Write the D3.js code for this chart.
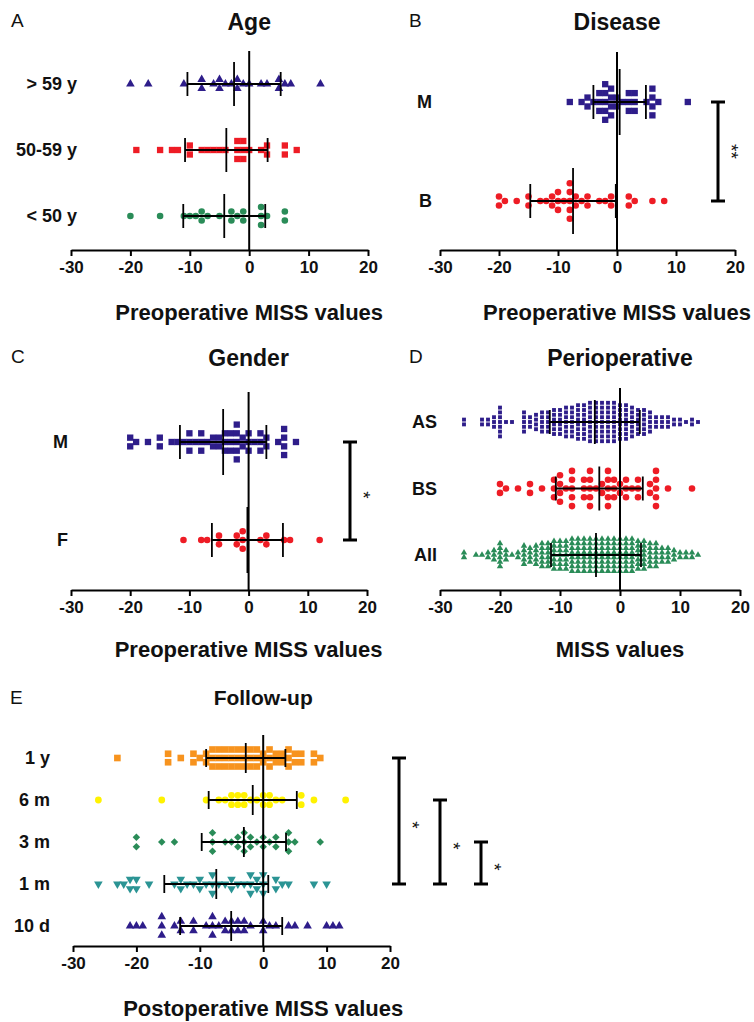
<!DOCTYPE html>
<html>
<head>
<meta charset="utf-8">
<script src="https://cdn.jsdelivr.net/npm/d3@7"></script>
<style>
  body { margin: 0; background: #fff; }
  text { font-family: "Liberation Sans", Arial, sans-serif; fill: #111; }
</style>
</head>
<body>
<div id="chart"></div>
<script>
// ---- data ----
const missTicks = [-30, -20, -10, 0, 10, 20];
const missTickLabels = ["-30", "-20", "-10", "0", "10", "20"];

// A: age
const ageCats = ["> 59 y", "50-59 y", "< 50 y"];
const ageOver59 = [-20,-17,-11,-8,-8,-6,-5,-5,-4,-3,-2,-2,-1,0,2,3,5,5,6,7,12];
const age50to59 = [-19,-15,-13,-12,-10,-10,-8,-7,-6,-5,-4,-2,-2,-2,-1,-1,-1,0,2,3,3,6,6,8];
const ageUnder50 = [-20,-15,-11,-10,-9,-8,-8,-7,-5,-3,-3,-2,-1,-1,2,2,2,3,6,6];
const ageMean = [-2.55, -3.85, -4.2];
const ageSd = [7.85, 6.95, 6.9];

// B: disease
const diseaseCats = ["M", "B"];
const diseaseM = [-8,-6,-5,-5,-4,-3,-3,-3,-2,-2,-2,-2,-2,-1,-1,-1,-1,0,0,1,2,2,2,3,3,3,5,6,6,6,6,7,12];
const diseaseB = [-20,-20,-19,-17,-15,-15,-13,-12,-11,-11,-10,-10,-10,-9,-8,-8,-8,-8,-8,-7,-7,-6,-5,-5,-3,-2,-1,-1,2,2,3,6,8];
const diseaseMean = [0.45, -7.45];
const diseaseSd = [4.45, 7.25];

// C: gender
const genderCats = ["M", "F"];
const genderM = [-20,-20,-19,-17,-15,-15,-13,-12,-11,-10,-10,-10,-9,-8,-8,-8,-7,-6,-6,-5,-5,-4,-4,-4,
                 -3,-3,-3,-2,-2,-2,-2,-2,-1,-1,0,0,0,1,2,2,2,3,3,5,6,6,6,6,8];
const genderF = [-11,-8,-7,-5,-5,-2,-2,-1,-1,-1,2,3,3,6,7,12];
const genderMean = [-4.3, -0.2];
const genderSd = [7.3, 6.0];

// D: perioperative (counts per MISS value)
const periCats = ["AS", "BS", "All"];
const periBins = [-26,-25,-24,-23,-22,-21,-20,-19,-18,-17,-16,-15,-14,-13,-12,-11,-10,-9,-8,-7,
                  -6,-5,-4,-3,-2,-1,0,1,2,3,4,5,6,7,8,9,10,11,12,13];
const periAsCounts  = [2,0,0,2,2,3,7,1,1,0,5,3,4,5,5,6,6,7,7,8,8,9,9,9,9,9,8,8,7,6,6,5,3,3,3,2,2,1,2,1];
const periBsCounts  = [0,0,0,0,0,0,2,1,0,1,0,2,0,1,0,3,4,1,5,0,3,5,1,2,5,3,2,3,1,3,0,2,5,0,1,0,0,0,1,0];
const periAllCounts = [2,0,1,1,2,3,6,3,1,2,5,4,5,6,6,7,7,7,8,8,8,8,8,8,8,8,8,8,8,7,7,6,6,4,4,3,2,2,2,1];
const periMean = [-4.2, -3.45, -4.0];
const periSd = [7.5, 7.25, 7.5];

// E: follow-up
const followCats = ["1 y", "6 m", "3 m", "1 m", "10 d"];
const follow1y = [-23,-15,-15,-13,-11,-11,-10,-9,-9,-8,-8,-8,-7,-7,-7,-6,-6,-6,-5,-5,-5,-4,-4,-4,
                  -3,-3,-3,-2,-2,-2,-1,-1,-1,0,0,1,1,1,2,2,3,3,4,4,4,5,5,6,6,8,8,9];
const follow6m = [-26,-16,-9,-7,-6,-5,-5,-4,-4,-3,-3,-2,-1,0,0,1,1,2,3,6,6,8,13];
const follow3m = [-20,-20,-16,-14,-8,-8,-8,-6,-5,-4,-4,-3,-3,-3,-2,-2,-1,0,0,1,2,2,4,4,4,5,9];
const follow1m = [-26,-23,-22,-21,-21,-20,-20,-18,-14,-13,-13,-12,-11,-10,-10,-9,-8,-8,-8,-7,-6,
                  -5,-5,-4,-3,-2,-2,-2,-1,-1,0,0,0,2,2,3,4,8,10];
const follow10d = [-21,-20,-19,-16,-16,-16,-14,-13,-13,-11,-11,-9,-8,-8,-8,-7,-6,-6,-5,-5,-4,-4,
                   -3,-3,-2,0,0,1,2,4,5,7,10,11,12];
const followMean = [-2.75, -1.65, -3.05, -7.4, -5.05];
const followSd = [6.25, 6.95, 6.65, 8.2, 8.05];

// ---- helpers ----
function expandCounts(bins, counts) {
  var out = [];
  bins.forEach(function(b, i) { for (var k = 0; k < counts[i]; k++) out.push(b); });
  return out;
}

// stack equal values vertically, centred on the category line
function stackPoints(values, step) {
  var out = [];
  d3.group(values, function(v) { return v; }).forEach(function(list, v) {
    var n = list.length;
    list.forEach(function(d, k) { out.push({value: v, off: (k - (n - 1) / 2) * step}); });
  });
  return out;
}

const svg = d3.select("#chart").append("svg")
  .attr("width", 754).attr("height", 1022)
  .style("background", "#fff");

function drawPanel(p) {
  const x = d3.scaleLinear().domain([-30, 20]).range(p.xRange);
  const y = d3.scalePoint().domain(p.cats).range(p.yRange);
  const g = svg.append("g");

  g.append("text")
    .attr("x", p.letterPos[0]).attr("y", p.letterPos[1])
    .style("font-size", "19px")
    .text(p.letter);

  g.append("text")
    .attr("x", x(0)).attr("y", p.titleY)
    .attr("text-anchor", "middle")
    .style("font-size", p.titleSize + "px").style("font-weight", "bold")
    .text(p.title);

  // points
  p.groups.forEach(function(gr, i) {
    const cy = y(p.cats[i]);
    const shape = d3.symbol().type(gr.symbol).size(gr.size);
    g.selectAll(null)
      .data(stackPoints(gr.values, gr.step))
      .enter().append("path")
      .attr("d", shape)
      .attr("fill", gr.color)
      .attr("transform", function(d) {
        return "translate(" + x(d.value) + "," + (cy + d.off) + ") rotate(" + (gr.rotate || 0) + ")";
      });
  });

  // zero line
  g.append("line")
    .attr("x1", x(0)).attr("x2", x(0))
    .attr("y1", p.yRange[0] - p.zeroPad).attr("y2", p.axisY)
    .attr("stroke", "#000").attr("stroke-width", 2);

  // mean +/- SD
  p.cats.forEach(function(c, i) {
    const cy = y(c), lo = x(p.mean[i] - p.sd[i]), hi = x(p.mean[i] + p.sd[i]);
    const eb = g.append("g").attr("stroke", "#000").attr("stroke-width", 1.8);
    eb.append("line").attr("x1", lo).attr("x2", hi).attr("y1", cy).attr("y2", cy);
    [lo, hi].forEach(function(xx) {
      eb.append("line").attr("x1", xx).attr("x2", xx).attr("y1", cy - p.capH).attr("y2", cy + p.capH);
    });
    eb.append("line").attr("x1", x(p.mean[i])).attr("x2", x(p.mean[i]))
      .attr("y1", cy - p.meanH).attr("y2", cy + p.meanH);
  });

  // category labels
  g.selectAll(null)
    .data(p.cats)
    .enter().append("text")
    .attr("x", p.labelX)
    .attr("y", function(d) { return y(d); })
    .attr("dy", "0.36em")
    .attr("text-anchor", "end")
    .style("font-size", "18px").style("font-weight", "bold")
    .text(function(d) { return d; });

  // axis
  const ax = g.append("g")
    .attr("transform", "translate(0," + p.axisY + ")")
    .call(d3.axisBottom(x)
      .tickValues(missTicks)
      .tickFormat(function(d, i) { return missTickLabels[i]; })
      .tickSize(6).tickSizeOuter(0).tickPadding(5));
  ax.select(".domain").attr("stroke", "#000").attr("stroke-width", 2);
  ax.selectAll(".tick line").attr("stroke", "#000").attr("stroke-width", 2);
  ax.selectAll(".tick text")
    .attr("fill", "#111")
    .style("font-family", "'Liberation Sans', Arial, sans-serif")
    .style("font-size", "17px").style("font-weight", "bold");

  g.append("text")
    .attr("x", x(0)).attr("y", p.axisTitleY)
    .attr("text-anchor", "middle")
    .style("font-size", "22px").style("font-weight", "bold")
    .text(p.axisTitle);

  // significance brackets
  (p.brackets || []).forEach(function(b) {
    const y1 = y(b.from), y2 = y(b.to);
    const br = g.append("g").attr("stroke", "#000").attr("stroke-width", 3);
    br.append("line").attr("x1", b.x).attr("x2", b.x).attr("y1", y1).attr("y2", y2);
    [y1, y2].forEach(function(yy) {
      br.append("line").attr("x1", b.x - 7).attr("x2", b.x + 7).attr("y1", yy).attr("y2", yy);
    });
    g.append("text")
      .attr("transform", "translate(" + (b.x + 7) + "," + ((y1 + y2) / 2 + b.dy) + ") rotate(90)")
      .attr("text-anchor", "middle")
      .attr("fill", "#000")
      .style("font-size", "19px")
      .text(b.label);
  });
}

const triDown = d3.symbolTriangle;

drawPanel({
  letter: "A", letterPos: [11, 27], title: "Age", titleY: 30, titleSize: 23,
  xRange: [71, 368], cats: ageCats, yRange: [84, 216], axisY: 250,
  axisTitle: "Preoperative MISS values", axisTitleY: 320, labelX: 77,
  zeroPad: 33, meanH: 22, capH: 12, mean: ageMean, sd: ageSd,
  groups: [
    {values: ageOver59, symbol: d3.symbolTriangle, size: 32, color: "#2e1d8a", step: 9},
    {values: age50to59, symbol: d3.symbolSquare, size: 40, color: "#ee1c25", step: 9},
    {values: ageUnder50, symbol: d3.symbolCircle, size: 34, color: "#2a8c58", step: 9}
  ]
});

drawPanel({
  letter: "B", letterPos: [409, 27], title: "Disease", titleY: 30, titleSize: 23,
  xRange: [440, 735], cats: diseaseCats, yRange: [102, 201], axisY: 250,
  axisTitle: "Preoperative MISS values", axisTitleY: 320, labelX: 432,
  zeroPad: 50, meanH: 33, capH: 17, mean: diseaseMean, sd: diseaseSd,
  groups: [
    {values: diseaseM, symbol: d3.symbolSquare, size: 40, color: "#2e1d8a", step: 8.9},
    {values: diseaseB, symbol: d3.symbolCircle, size: 34, color: "#ee1c25", step: 8.9}
  ],
  brackets: [{from: "M", to: "B", x: 718, label: "**", dy: 0}]
});

drawPanel({
  letter: "C", letterPos: [11, 363], title: "Gender", titleY: 366, titleSize: 23,
  xRange: [71, 367], cats: genderCats, yRange: [442, 540], axisY: 590,
  axisTitle: "Preoperative MISS values", axisTitleY: 657, labelX: 68,
  zeroPad: 50, meanH: 33, capH: 17, mean: genderMean, sd: genderSd,
  groups: [
    {values: genderM, symbol: d3.symbolSquare, size: 40, color: "#2e1d8a", step: 8.7},
    {values: genderF, symbol: d3.symbolCircle, size: 34, color: "#ee1c25", step: 8.7}
  ],
  brackets: [{from: "M", to: "F", x: 350, label: "*", dy: 4}]
});

drawPanel({
  letter: "D", letterPos: [409, 363], title: "Perioperative", titleY: 366, titleSize: 23,
  xRange: [440, 740], cats: periCats, yRange: [422, 555], axisY: 590,
  axisTitle: "MISS values", axisTitleY: 657, labelX: 437,
  zeroPad: 34, meanH: 22, capH: 12, mean: periMean, sd: periSd,
  groups: [
    {values: expandCounts(periBins, periAsCounts), symbol: d3.symbolSquare, size: 15, color: "#2e1d8a", step: 4.8},
    {values: expandCounts(periBins, periBsCounts), symbol: d3.symbolCircle, size: 34, color: "#ee1c25", step: 8.8},
    {values: expandCounts(periBins, periAllCounts), symbol: d3.symbolTriangle, size: 18, color: "#2a8c58", step: 4.6}
  ]
});

drawPanel({
  letter: "E", letterPos: [10, 704], title: "Follow-up", titleY: 705, titleSize: 21,
  xRange: [73, 390], cats: followCats, yRange: [758, 926], axisY: 946,
  axisTitle: "Postoperative MISS values", axisTitleY: 1016, labelX: 50,
  zeroPad: 23, meanH: 15, capH: 9, mean: followMean, sd: followSd,
  groups: [
    {values: follow1y, symbol: d3.symbolSquare, size: 44, color: "#f7931e", step: 8.5},
    {values: follow6m, symbol: d3.symbolCircle, size: 36, color: "#fff200", step: 9.3},
    {values: follow3m, symbol: d3.symbolSquare, size: 28, color: "#2a8c58", step: 9.3, rotate: 45},
    {values: follow1m, symbol: triDown, size: 32, color: "#2b9494", step: 9.3, rotate: 180},
    {values: follow10d, symbol: d3.symbolTriangle, size: 32, color: "#2e1d8a", step: 9.3}
  ],
  brackets: [
    {from: "1 y", to: "1 m", x: 399, label: "*", dy: 4},
    {from: "6 m", to: "1 m", x: 440, label: "*", dy: 4},
    {from: "3 m", to: "1 m", x: 481, label: "*", dy: 4}
  ]
});
</script>
</body>
</html>
